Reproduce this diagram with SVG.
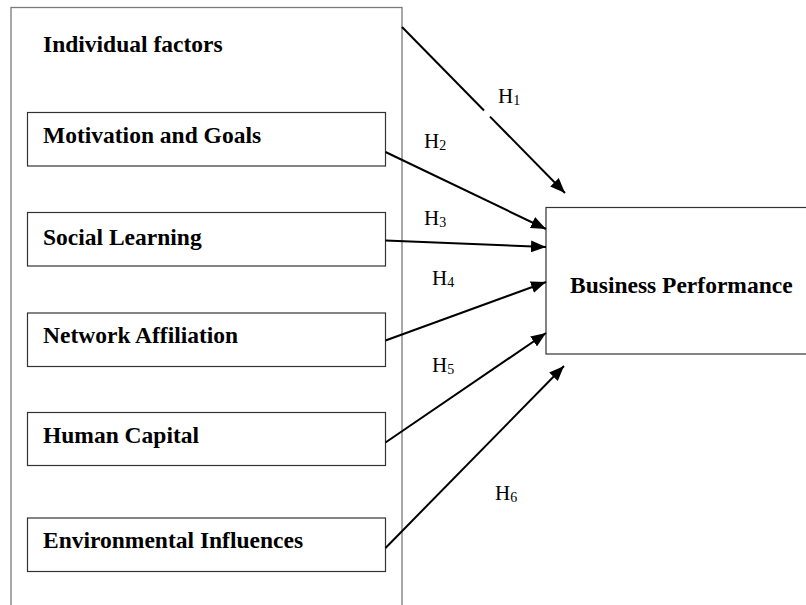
<svg xmlns="http://www.w3.org/2000/svg" width="806" height="605" viewBox="0 0 806 605">
<style>
.bg{fill:#fff}
.outer{fill:#fff;stroke:#7a7a7a;stroke-width:1.3}
.box{fill:#fff;stroke:#333;stroke-width:1.2}
.lbl{font-family:"Liberation Serif","Times New Roman",serif;font-weight:bold;font-size:23.5px;fill:#000}
.h{font-family:"Liberation Serif","Times New Roman",serif;font-size:21px;fill:#000}
.sub{font-size:14px}
.con{stroke:#000;stroke-width:2;fill:none}
</style>
<defs>
<marker id="arr" markerUnits="userSpaceOnUse" markerWidth="16" markerHeight="12" refX="15" refY="6" orient="auto">
<path d="M0,0 L15,6 L0,12 z" fill="#000"/>
</marker>
</defs>
<rect class="bg" x="0" y="0" width="806" height="605"/>
<g id="individual-factors">
<rect class="outer" x="11" y="7.5" width="391" height="620"/>
<text class="lbl" x="43" y="52">Individual factors</text>
</g>
<g id="motivation">
<rect class="box" x="27.5" y="112.5" width="358" height="53.5"/>
<text class="lbl" x="43" y="143">Motivation and Goals</text>
</g>
<g id="social">
<rect class="box" x="27.5" y="212.5" width="358" height="53.5"/>
<text class="lbl" x="43" y="245">Social Learning</text>
</g>
<g id="network">
<rect class="box" x="27.5" y="313" width="358" height="53.5"/>
<text class="lbl" x="43" y="343">Network Affiliation</text>
</g>
<g id="human">
<rect class="box" x="27.5" y="412.5" width="358" height="53"/>
<text class="lbl" x="43" y="443">Human Capital</text>
</g>
<g id="environmental">
<rect class="box" x="27.5" y="518" width="358" height="53.5"/>
<text class="lbl" x="43" y="548">Environmental Influences</text>
</g>
<g id="business-performance">
<rect class="box" x="546" y="207.5" width="280" height="146.5"/>
<text class="lbl" x="570" y="293">Business Performance</text>
</g>
<g id="connectors">
<line class="con" x1="402" y1="27" x2="484" y2="110.5"/>
<line class="con" x1="490" y1="116.6" x2="565" y2="193" marker-end="url(#arr)"/>
<line class="con" x1="385.5" y1="152" x2="546" y2="229" marker-end="url(#arr)"/>
<line class="con" x1="385.5" y1="240.5" x2="546" y2="247" marker-end="url(#arr)"/>
<line class="con" x1="385.5" y1="340.5" x2="546" y2="282" marker-end="url(#arr)"/>
<line class="con" x1="385.5" y1="442.5" x2="546" y2="333" marker-end="url(#arr)"/>
<line class="con" x1="385.5" y1="548" x2="564" y2="366" marker-end="url(#arr)"/>
<text class="h" x="498" y="103">H<tspan class="sub" dy="2">1</tspan></text>
<text class="h" x="424" y="148">H<tspan class="sub" dy="2">2</tspan></text>
<text class="h" x="424" y="225">H<tspan class="sub" dy="2">3</tspan></text>
<text class="h" x="432" y="285">H<tspan class="sub" dy="2">4</tspan></text>
<text class="h" x="432" y="372">H<tspan class="sub" dy="2">5</tspan></text>
<text class="h" x="495" y="500">H<tspan class="sub" dy="2">6</tspan></text>
</g>
</svg>
